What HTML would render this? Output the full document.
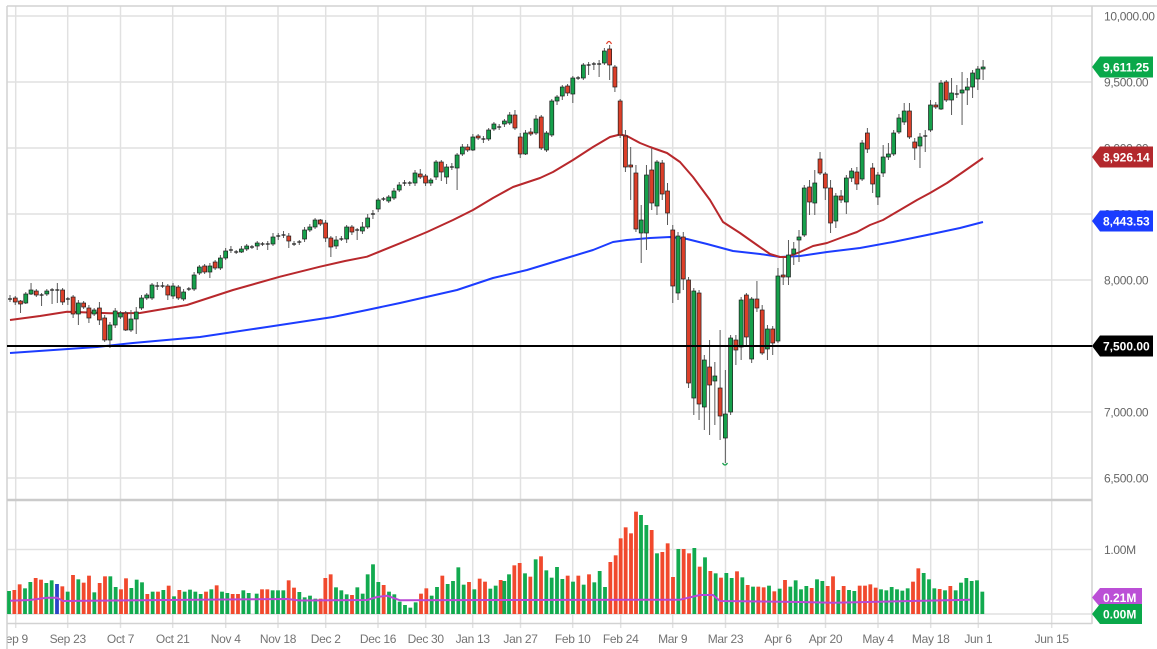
<!DOCTYPE html>
<html><head><meta charset="utf-8">
<style>
html,body{margin:0;padding:0;background:#fff;overflow:hidden;}
svg{display:block;}
text{font-family:"Liberation Sans",Arial,sans-serif;}
</style></head><body>
<svg id="c" width="1157" height="649" viewBox="0 0 1157 649" xmlns="http://www.w3.org/2000/svg">
<defs>
<clipPath id="cpMain"><rect x="7" y="6" width="1085" height="494"/></clipPath>
<clipPath id="cpVol"><rect x="7" y="501" width="1085" height="123"/></clipPath>
<clipPath id="cpAx"><rect x="7.5" y="624" width="1085" height="25"/></clipPath>
</defs>
<rect width="1157" height="649" fill="#fff"/>
<g stroke="#e1e1e1" stroke-width="1.5">
<line x1="15.7" y1="6" x2="15.7" y2="628"/>
<line x1="67.7" y1="6" x2="67.7" y2="628"/>
<line x1="120.5" y1="6" x2="120.5" y2="628"/>
<line x1="172.7" y1="6" x2="172.7" y2="628"/>
<line x1="225.7" y1="6" x2="225.7" y2="628"/>
<line x1="278" y1="6" x2="278" y2="628"/>
<line x1="325.7" y1="6" x2="325.7" y2="628"/>
<line x1="378" y1="6" x2="378" y2="628"/>
<line x1="425.7" y1="6" x2="425.7" y2="628"/>
<line x1="472.7" y1="6" x2="472.7" y2="628"/>
<line x1="520.5" y1="6" x2="520.5" y2="628"/>
<line x1="572.7" y1="6" x2="572.7" y2="628"/>
<line x1="620.7" y1="6" x2="620.7" y2="628"/>
<line x1="672.7" y1="6" x2="672.7" y2="628"/>
<line x1="725.5" y1="6" x2="725.5" y2="628"/>
<line x1="778" y1="6" x2="778" y2="628"/>
<line x1="825.5" y1="6" x2="825.5" y2="628"/>
<line x1="878" y1="6" x2="878" y2="628"/>
<line x1="930.7" y1="6" x2="930.7" y2="628"/>
<line x1="978.3" y1="6" x2="978.3" y2="628"/>
<line x1="1051.7" y1="6" x2="1051.7" y2="628"/>
</g>
<g stroke="#e1e1e1" stroke-width="1.5">
<line x1="7" y1="16" x2="1092" y2="16"/>
<line x1="7" y1="82" x2="1092" y2="82"/>
<line x1="7" y1="148" x2="1092" y2="148"/>
<line x1="7" y1="214" x2="1092" y2="214"/>
<line x1="7" y1="280" x2="1092" y2="280"/>
<line x1="7" y1="412" x2="1092" y2="412"/>
<line x1="7" y1="478" x2="1092" y2="478"/>
<line x1="7" y1="549.5" x2="1092" y2="549.5"/>
<line x1="7" y1="614" x2="1092" y2="614"/>
</g>
<g stroke="#d2d2d2">
<line x1="7" y1="6" x2="1157" y2="6" stroke-width="1.5"/>
<line x1="7" y1="6" x2="7" y2="649" stroke-width="1.5"/>
<line x1="1092" y1="6" x2="1092" y2="624" stroke-width="1.5"/>
<line x1="7" y1="500" x2="1092" y2="500" stroke-width="2.5" stroke="#cbcbcb"/>
<line x1="7" y1="623.5" x2="1092" y2="623.5" stroke-width="1.5"/>
</g>

<g id="vol" clip-path="url(#cpVol)"></g>
<polyline clip-path="url(#cpVol)" fill="none" stroke="#b948d4" stroke-width="2" stroke-linejoin="round"
 points="10,600.7 30,600 47,597.7 57,597.7 63,601 167,600 287,599 300,600.5 367,600 377,597 387,595.7 400,600.3 500,600 680,599.7 700,595 713,595 720,601 800,602 833,602.7 900,601.3 970,599.7"/>

<g clip-path="url(#cpMain)">
<polyline fill="none" stroke="#1c3cff" stroke-width="2" stroke-linejoin="round"
 points="10,353 97,347 133,343 200,337 267,327 333,317 367,310 400,303 457,290 493,278 527,270 560,260 593,250 613,242 627,240 650,238 670,237 687,239 707,244 733,251 760,254 780,257 800,256 827,252 860,248 893,242 927,235 960,228 983,222"/>
<polyline fill="none" stroke="#b8282c" stroke-width="2" stroke-linejoin="round"
 points="10,320 40,316 67,311.7 110,313.3 140,313 187,305 233,290 280,276.7 320,266.7 345,261 367,256.7 400,243.3 427,232 453,220 473,210 493,198 513,187 540,178 553,172 573,160 593,147 610,137 620,134.5 627,136 640,143 650,147 667,153 680,162 693,177 710,200 723,222 740,233 757,245 770,254 780,257 787,257 800,252 813,246 827,243 843,237 857,232 870,225 883,220 900,210 917,200 930,193 947,183 963,172 983,158"/>
<g id="candles"></g>
<line x1="7" y1="346" x2="1092" y2="346" stroke="#000" stroke-width="2"/>
<path d="M606.5,44 Q609,39 611.5,44" fill="none" stroke="#e0402a" stroke-width="1.2"/>
<path d="M722.5,463 Q725,467 727.5,463" fill="none" stroke="#19a04d" stroke-width="1.2"/>
</g>

<g font-size="12" fill="#666" letter-spacing="-0.3">
<text x="1104" y="20.5">10,000.00</text>
<text x="1104" y="86.5">9,500.00</text>
<text x="1104" y="152.5">9,000.00</text>
<text x="1104" y="218.5">8,500.00</text>
<text x="1104" y="284.5">8,000.00</text>
<text x="1104" y="350.5">7,500.00</text>
<text x="1104" y="416.5">7,000.00</text>
<text x="1104" y="482.5">6,500.00</text>
<text x="1104" y="554">1.00M</text>
</g>

<g font-size="12" font-weight="bold" fill="#fff">
<polygon points="1092,67 1100,56.5 1153,56.5 1153,77.5 1100,77.5" fill="#0aa84a"/>
<text x="1103" y="71.3">9,611.25</text>
<polygon points="1092,157 1100,146.5 1153,146.5 1153,167.5 1100,167.5" fill="#b3282d"/>
<text x="1103" y="161.3">8,926.14</text>
<polygon points="1092,221 1100,210.5 1153,210.5 1153,231.5 1100,231.5" fill="#1a3cff"/>
<text x="1103" y="225.3">8,443.53</text>
<polygon points="1092,346 1100,335.5 1153,335.5 1153,356.5 1100,356.5" fill="#000"/>
<text x="1103" y="350.3">7,500.00</text>
<polygon points="1092,597.5 1100,588 1142,588 1142,607 1100,607" fill="#bb4fd6"/>
<text x="1103" y="601.8">0.21M</text>
<polygon points="1092,614 1100,604 1142,604 1142,624 1100,624" fill="#0aa84a"/>
<text x="1103" y="618.3">0.00M</text>
</g>

<g font-size="12" fill="#737373" text-anchor="middle" letter-spacing="-0.3" clip-path="url(#cpAx)">
<text x="13" y="643">Sep 9</text>
<text x="67.7" y="643">Sep 23</text>
<text x="120.5" y="643">Oct 7</text>
<text x="172.7" y="643">Oct 21</text>
<text x="225.7" y="643">Nov 4</text>
<text x="278" y="643">Nov 18</text>
<text x="325.7" y="643">Dec 2</text>
<text x="378" y="643">Dec 16</text>
<text x="425.7" y="643">Dec 30</text>
<text x="472.7" y="643">Jan 13</text>
<text x="520.5" y="643">Jan 27</text>
<text x="572.7" y="643">Feb 10</text>
<text x="620.7" y="643">Feb 24</text>
<text x="672.7" y="643">Mar 9</text>
<text x="725.5" y="643">Mar 23</text>
<text x="778" y="643">Apr 6</text>
<text x="825.5" y="643">Apr 20</text>
<text x="878" y="643">May 4</text>
<text x="930.7" y="643">May 18</text>
<text x="978.3" y="643">Jun 1</text>
<text x="1051.7" y="643">Jun 15</text>
</g>
</svg>
<script>
(function(){
var NS='http://www.w3.org/2000/svg';
function el(tag,a,p){var e=document.createElementNS(NS,tag);for(var k in a)e.setAttribute(k,a[k]);p.appendChild(e);return e;}
var C=[
[299,299,'d',295,302],[298,302,'r',296,305],[301,304,'r',300,313],[294,303,'g',292,304],[290,294,'g',283,295],
[291,295,'r',289,297],[295,295,'d',293,306],[291,294,'g',289,296],[290,290,'d',288,304],[290,290,'d',283,303],
[290,302,'r',288,305],[299,299,'d',297,305],[297,314,'r',295,318],[303,314,'g',300,325],[303,307,'r',301,309],
[308,318,'r',305,323],[310,314,'g',308,316],[308,320,'r',302,325],[318,340,'r',315,342],[325,340,'g',322,348],
[311,325,'g',308,328],[313,317,'g',311,319],[313,330,'r',311,331],[319,330,'g',310,332],[312,319,'g',307,334],
[298,308,'g',295,310],[295,298,'g',293,300],[285,298,'g',283,300],[286,286,'d',282,290],[286,286,'d',282,288],
[286,295,'r',284,300],[286,296,'g',283,299],[287,298,'r',285,300],[292,299,'g',289,301],[289,289,'d',287,291],
[275,289,'g',272,291],[267,273,'g',265,275],[266,272,'r',264,274],[266,272,'g',263,278],[262,268,'r',260,270],
[258,268,'g',255,270],[251,258,'g',248,260],[250,250,'d',246,253],[252,252,'d',250,254],[249,252,'g',246,253],
[246,249,'g',244,251],[247,247,'d',245,249],[243,246,'g',241,250],[244,244,'d',242,246],[244,244,'d',241,250],
[237,244,'g',233,246],[236,236,'d',233,240],[235,235,'d',231,238],[236,241,'r',233,248],[244,244,'d',241,246],
[242,242,'d',240,245],[230,239,'g',227,242],[227,230,'g',224,232],[220,227,'g',218,229],[220,224,'r',219,226],
[223,238,'r',220,242],[238,247,'r',236,257],[240,246,'g',236,249],[239,239,'d',236,241],[227,239,'g',225,243],
[227,232,'r',225,235],[230,230,'d',228,240],[227,231,'g',222,234],[218,227,'g',214,229],[214,214,'d',210,219],
[200,209,'g',198,212],[199,199,'d',197,201],[197,201,'g',195,203],[191,198,'g',188,200],[185,190,'g',182,192],
[183,183,'d',180,186],[183,183,'d',181,186],[173,183,'g',170,186],[174,177,'r',169,179],[176,183,'r',174,186],
[180,183,'g',178,186],[162,177,'g',160,180],[162,172,'r',160,181],[167,177,'g',164,184],[167,167,'d',163,170],
[155,168,'g',153,190],[147,154,'g',144,156],[147,150,'r',144,152],[137,150,'g',134,151],[136,138,'r',134,140],
[139,139,'d',136,143],[130,139,'g',128,141],[124,129,'g',122,131],[127,127,'d',124,130],[121,124,'g',119,127],
[115,123,'g',112,125],[115,128,'r',110,130],[137,154,'r',133,158],[133,154,'g',130,155],[132,134,'r',128,136],
[119,133,'g',115,135],[117,148,'r',115,150],[133,150,'g',131,152],[101,135,'g',99,137],[97,101,'g',95,105],
[87,96,'g',85,100],[86,93,'r',84,96],[78,94,'g',76,103],[78,78,'d',76,80],[65,78,'g',63,80],
[65,65,'d',62,75],[64,64,'d',62,70],[64,64,'d',60,77],[51,63,'g',48,65],[49,65,'r',45,80],
[67,87,'r',65,92],[101,135,'r',99,138],[136,167,'r',130,172],[165,167,'r',147,200],[173,229,'r',165,232],
[220,233,'g',205,263],[175,233,'g',165,250],[170,203,'r',148,210],[162,206,'g',160,215],[163,194,'r',160,200],
[191,213,'r',183,225],[230,286,'r',225,303],[236,293,'g',232,300],[237,279,'r',232,290],[280,383,'r',277,388],
[291,398,'g',288,415],[293,404,'r',290,420],[360,407,'g',355,430],[367,385,'r',340,435],[376,381,'g',362,425],
[388,416,'r',330,440],[414,438,'g',370,463],[338,412,'g',335,415],[340,350,'r',335,365],[300,347,'g',297,360],
[295,337,'r',293,345],[299,359,'g',297,363],[299,308,'r',281,312],[310,353,'r',305,355],[329,349,'g',325,360],
[329,343,'r',326,355],[276,341,'g',268,343],[275,277,'r',258,285],[255,277,'g',240,285],[249,254,'g',242,265],
[237,240,'g',230,262],[188,235,'g',185,237],[187,202,'r',180,215],[183,203,'g',170,215],[159,173,'r',152,175],
[174,188,'r',172,200],[188,223,'r',180,233],[196,221,'g',193,228],[196,200,'r',190,203],[178,202,'g',175,214],
[171,178,'g',168,182],[172,184,'r',167,190],[143,179,'g',140,181],[133,149,'r',128,153],[168,184,'r',163,193],
[175,197,'g',172,205],[157,173,'g',145,177],[154,157,'g',143,160],[133,154,'g',130,156],[118,132,'g',114,134],
[111,122,'g',103,125],[111,137,'r',103,139],[142,148,'r',138,160],[137,146,'g',133,168],[136,136,'d',130,152],
[105,130,'g',100,132],[105,107,'r',102,109],[83,109,'g',80,110],[82,100,'r',80,102],[93,100,'g',78,115],
[94,94,'d',85,98],[90,93,'g',72,125],[87,90,'g',78,105],[73,87,'g',70,98],[69,79,'g',66,90],[67,69,'g',60,80]
];
var g=document.getElementById('candles');
for(var i=0;i<C.length;i++){
  var c=C[i],x=10+i*5.26;
  el('line',{x1:x,y1:c[3],x2:x,y2:c[4],stroke:'#5a5a5a','stroke-width':1},g);
  if(c[2]==='d'){
    el('line',{x1:x-2,y1:c[0],x2:x+2,y2:c[0],stroke:'#222','stroke-width':1.3},g);
  }else{
    var h=Math.max(c[1]-c[0],1.5);
    el('rect',{x:x-2,y:c[0],width:4,height:h,fill:c[2]==='g'?'#16a04b':'#dc3f29',stroke:'#1e1e1e','stroke-width':0.7},g);
  }
}
var V7="27,288,g 43,285,r 59,268,r 75,280,g 91,261,g 107,249,r 123,254,r 139,264,g 155,256,g 171,267,b 187,274,r 203,290,g 219,240,r 235,253,g 251,263,r 267,242,r 283,292,g 299,264,r 315,244,r 331,244,g 347,276,g 363,283,r 378,250,r 394,279,g 410,254,g 426,262,g 442,297,r 458,290,g 474,290,r 490,285,g 506,272,r 522,304,g 538,285,r 554,290,g 570,284,g 586,290,g 602,297,g 618,290,r 634,283,g 650,271,r 666,290,g 682,294,g 698,297,r 714,297,r 730,286,g 746,294,g 770,296,g 786,283,r 802,283,r 818,286,g 834,286,g 850,286,g 866,256,r 882,278,r 898,291,g 914,307,g 930,302,g 946,311,g 962,311,r 976,249,r 992,238,r 1008,277,g 1024,286,g 1040,298,g 1056,300,r 1072,277,g 1088,296,g 1103,238,g 1119,208,g 1135,261,g 1151,270,r 1167,290,g 1183,298,g 1199,320,g 1215,330,g 1231,338,g 1247,322,g 1263,296,r 1279,280,r 1295,302,g 1311,276,g 1327,242,r 1343,267,g 1359,258,g 1375,217,g 1391,269,g 1407,261,r 1423,283,g 1439,251,r 1455,260,r 1471,281,g 1487,272,g";
var V8="2,255,r 13,258,g 27,238,g 43,211,r 59,204,r 75,235,g 91,245,r 107,193,g 123,184,r 139,226,g 155,248,g 171,216,g 187,252,g 203,242,r 219,260,g 235,242,r 251,269,g 267,238,r 283,262,g 299,228,g 315,276,g 331,201,r 347,181,r 362,130,r 377,97,r 393,115,r 408,50,r 423,60,g 439,90,g 455,105,r 471,175,g 487,171,r 503,145,r 519,246,r 535,162,g 551,162,r 567,175,r 583,159,g 599,215,r 615,187,g 631,228,r 647,235,g 663,248,r 679,234,g 695,249,g 711,229,r 727,247,g 743,270,r 759,275,g 775,275,r 791,277,r 807,272,g 823,289,r 839,281,g 855,255,r 871,275,g 887,256,g 903,283,g 919,273,g 935,279,r 951,253,g 967,258,g 983,273,r 999,244,r 1015,285,g 1031,273,r 1047,285,g 1063,288,g 1079,272,r 1095,272,r 1111,268,r 1127,278,r 1143,283,g 1159,286,g 1175,276,g 1191,283,g 1207,287,g 1223,280,g 1239,260,r 1255,220,r 1271,234,g 1287,253,g 1303,280,g 1319,282,r 1335,286,g 1351,273,r 1367,286,g 1383,263,g 1399,249,g 1415,258,g 1431,256,g 1447,290,g";
var vg=document.getElementById('vol');
var col={g:'#12aa4f',r:'#f1492d',b:'#2b44c8'};
function drawV(s,off){
  s.split(' ').forEach(function(t){
    var p=t.split(','),x=off+(+p[0])/3,y=495+(+p[1])/3;
    el('rect',{x:x-1.9,y:y,width:3.8,height:614-y,fill:col[p[2]]},vg);
  });
}
drawV(V7,0);drawV(V8,500);
})();
</script>
</body></html>
